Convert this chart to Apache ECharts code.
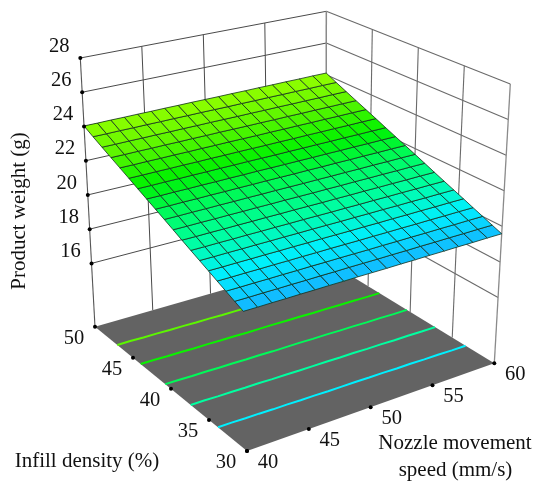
<!DOCTYPE html>
<html><head><meta charset="utf-8">
<style>html,body{margin:0;padding:0;background:#fff}#c{width:533px;height:482px}</style>
<script src="https://cdn.jsdelivr.net/npm/echarts@6/dist/echarts.min.js"></script>
</head><body><div id="c"></div>
<script>
const nozzleTicks=[40,45,50,55,60];
const infillTicks=[30,35,40,45,50];
const weightTicks=[16,18,20,22,24,26,28];
const nozzleValues=[40,41.11,42.22,43.33,44.44,45.56,46.67,47.78,48.89,50,51.11,52.22,53.33,54.44,55.56,56.67,57.78,58.89,60];
const infillValues=[30,31.11,32.22,33.33,34.44,35.56,36.67,37.78,38.89,40,41.11,42.22,43.33,44.44,45.56,46.67,47.78,48.89,50];
const contourLevels=[20.25,21,21.75,22.5,23.25];
// rows: infill 30..50, columns: nozzle 40..60
const surfaceZ=[
[19.50,19.50,19.51,19.51,19.52,19.52,19.53,19.53,19.54,19.54,19.54,19.55,19.55,19.56,19.56,19.57,19.57,19.58,19.58],
[19.71,19.71,19.72,19.72,19.73,19.73,19.74,19.74,19.75,19.75,19.75,19.76,19.76,19.77,19.77,19.78,19.78,19.79,19.79],
[19.93,19.93,19.94,19.94,19.95,19.95,19.96,19.96,19.97,19.97,19.97,19.98,19.98,19.99,19.99,20.00,20.00,20.01,20.01],
[20.15,20.15,20.16,20.16,20.17,20.17,20.18,20.18,20.19,20.19,20.19,20.20,20.20,20.21,20.21,20.22,20.22,20.23,20.23],
[20.38,20.38,20.39,20.39,20.40,20.40,20.41,20.41,20.42,20.42,20.42,20.43,20.43,20.44,20.44,20.45,20.45,20.46,20.46],
[20.61,20.61,20.62,20.62,20.63,20.63,20.64,20.64,20.65,20.65,20.65,20.66,20.66,20.67,20.67,20.68,20.68,20.69,20.69],
[20.84,20.84,20.85,20.85,20.86,20.86,20.87,20.87,20.88,20.88,20.88,20.89,20.89,20.90,20.90,20.91,20.91,20.92,20.92],
[21.08,21.08,21.09,21.09,21.10,21.10,21.11,21.11,21.12,21.12,21.12,21.13,21.13,21.14,21.14,21.15,21.15,21.16,21.16],
[21.33,21.33,21.34,21.34,21.35,21.35,21.36,21.36,21.37,21.37,21.37,21.38,21.38,21.39,21.39,21.40,21.40,21.41,21.41],
[21.58,21.58,21.59,21.59,21.60,21.60,21.61,21.61,21.62,21.62,21.62,21.63,21.63,21.64,21.64,21.65,21.65,21.66,21.66],
[21.83,21.83,21.84,21.84,21.85,21.85,21.86,21.86,21.87,21.87,21.87,21.88,21.88,21.89,21.89,21.90,21.90,21.91,21.91],
[22.08,22.08,22.09,22.09,22.10,22.10,22.11,22.11,22.12,22.12,22.12,22.13,22.13,22.14,22.14,22.15,22.15,22.16,22.16],
[22.34,22.34,22.35,22.35,22.36,22.36,22.37,22.37,22.38,22.38,22.38,22.39,22.39,22.40,22.40,22.41,22.41,22.42,22.42],
[22.61,22.61,22.62,22.62,22.63,22.63,22.64,22.64,22.65,22.65,22.65,22.66,22.66,22.67,22.67,22.68,22.68,22.69,22.69],
[22.88,22.88,22.89,22.89,22.90,22.90,22.91,22.91,22.92,22.92,22.92,22.93,22.93,22.94,22.94,22.95,22.95,22.96,22.96],
[23.15,23.15,23.16,23.16,23.17,23.17,23.18,23.18,23.19,23.19,23.19,23.20,23.20,23.21,23.21,23.22,23.22,23.23,23.23],
[23.43,23.43,23.44,23.44,23.45,23.45,23.46,23.46,23.47,23.47,23.47,23.48,23.48,23.49,23.49,23.50,23.50,23.51,23.51],
[23.72,23.72,23.73,23.73,23.74,23.74,23.75,23.75,23.76,23.76,23.76,23.77,23.77,23.78,23.78,23.79,23.79,23.80,23.80],
[24.03,24.03,24.04,24.04,24.05,24.05,24.06,24.06,24.07,24.07,24.07,24.08,24.08,24.09,24.09,24.10,24.10,24.11,24.11]
];
const colorZ=[19.5,20.25,21,21.75,22.4,23.25,24.1];
const colorHex=['#14b4ff','#00f0ff','#00ffa0','#00fa58','#00f200','#5cf600','#94ff00'];

// ---------- projection of the 3D box onto the page ----------
const zBottom=12.3, zTop=28, xMin=40, xMax=60, yMin=30, yMax=50;
function quad(q){
  return (u,v)=>[0,1].map(k=>(1-u)*(1-v)*q[0][k]+u*(1-v)*q[1][k]+u*v*q[2][k]+(1-u)*v*q[3][k]);
}
const floorMap=quad([[247,451],[494.3,363.3],[326,260.5],[95,326.7]]);
const ceilMap=quad([[239,146.5],[510.3,84],[326.3,11.3],[80.3,58]]);
function project(x,y,z){
  const u=(x-xMin)/(xMax-xMin),v=(y-yMin)/(yMax-yMin),t=(z-zBottom)/(zTop-zBottom);
  const a=floorMap(u,v),b=ceilMap(u,v);
  return [a[0]+(b[0]-a[0])*t,a[1]+(b[1]-a[1])*t];
}
function colorOf(z){
  let i=0;while(i<colorZ.length-2&&z>colorZ[i+1])i++;
  const t=Math.max(0,Math.min(1,(z-colorZ[i])/(colorZ[i+1]-colorZ[i])));
  const p=h=>[1,3,5].map(k=>parseInt(h.substr(k,2),16));
  const a=p(colorHex[i]),b=p(colorHex[i+1]);
  return 'rgb('+a.map((c,k)=>Math.round(c+(b[k]-c)*t)).join(',')+')';
}

// ---------- layers ----------
function seg(p,q,color,width){return {p:[p,q],color,width};}
const wallLines=[];
weightTicks.forEach(z=>{
  wallLines.push(seg([xMin,yMax,z],[xMax,yMax,z],'#4a4a4a',1));
  wallLines.push(seg([xMax,yMax,z],[xMax,yMin,z],'#6a6a6a',1.1));
});
nozzleTicks.slice(1,-1).forEach(x=>wallLines.push(seg([x,yMax,zBottom],[x,yMax,zTop],'#4a4a4a',1)));
infillTicks.slice(1,-1).forEach(y=>wallLines.push(seg([xMax,y,zBottom],[xMax,y,zTop],'#6a6a6a',1.1)));
wallLines.push(seg([xMin,yMax,zBottom],[xMin,yMax,zTop],'#555',1.1));
wallLines.push(seg([xMax,yMax,zBottom],[xMax,yMax,zTop],'#8a8a8a',1.5));
wallLines.push(seg([xMax,yMin,zBottom],[xMax,yMin,zTop],'#8a8a8a',1.3));

function contourPath(level){
  const pts=[];
  nozzleValues.forEach((x,c)=>{
    for(let r=0;r<infillValues.length-1;r++){
      const a=surfaceZ[r][c],b=surfaceZ[r+1][c];
      if(a<=level&&b>=level){
        const y=infillValues[r]+(level-a)/(b-a)*(infillValues[r+1]-infillValues[r]);
        pts.push([x,y,zBottom]);break;
      }
    }
  });
  return pts;
}
const cells=[];
for(let r=0;r<infillValues.length-1;r++)for(let c=0;c<nozzleValues.length-1;c++)cells.push([r,c]);

const tickDots=[];
weightTicks.forEach(z=>tickDots.push([xMin,yMax,z]));
infillTicks.forEach(y=>tickDots.push([xMin,y,zBottom]));
nozzleTicks.forEach(x=>tickDots.push([x,yMin,zBottom]));

const tickLabels=[];
weightTicks.forEach(z=>tickLabels.push({t:String(z),at:[xMin,yMax,z],dx:-21,dy:-11.8}));
infillTicks.forEach(y=>tickLabels.push({t:String(y),at:[xMin,y,zBottom],dx:-21,dy:11.8}));
nozzleTicks.forEach(x=>tickLabels.push({t:String(x),at:[x,yMin,zBottom],dx:21,dy:11.8}));

const font='"Liberation Serif","Times New Roman",serif';
const axisTitles=[
  {t:'Product weight (g)',x:19,y:211,rot:Math.PI/2,size:21},
  {t:'Infill density (%)',x:87,y:461.5,rot:0,size:21},
  {t:'Nozzle movement',x:455,y:443,rot:0,size:21},
  {t:'speed (mm/s)',x:455.5,y:470,rot:0,size:21}
];

function layer(data,fn){
  return {type:'custom',coordinateSystem:'cartesian2d',data:data.map((d,i)=>[i,0]),clip:false,silent:true,
    animation:false,encode:{x:0,y:1},renderItem:(params,api)=>{
      const toPx=p=>{const q=project(p[0],p[1],p[2]);return api.coord(q);};
      return fn(data[params.dataIndex],toPx,api);
    }};
}
const series=[
  layer([0],(d,px)=>({type:'polygon',shape:{points:[[xMin,yMin],[xMax,yMin],[xMax,yMax],[xMin,yMax]].map(p=>px([p[0],p[1],zBottom]))},style:{fill:'#636363'}})),
  layer(wallLines,(d,px)=>({type:'line',shape:{x1:px(d.p[0])[0],y1:px(d.p[0])[1],x2:px(d.p[1])[0],y2:px(d.p[1])[1]},style:{stroke:d.color,lineWidth:d.width}})),
  layer(contourLevels,(lv,px)=>({type:'polyline',shape:{points:contourPath(lv).map(px)},style:{stroke:colorOf(lv),lineWidth:2,fill:null}})),
  layer(cells,(d,px)=>{
    const [r,c]=d;
    const corners=[[r,c],[r,c+1],[r+1,c+1],[r+1,c]];
    const z=corners.reduce((s,k)=>s+surfaceZ[k[0]][k[1]],0)/4;
    return {type:'polygon',shape:{points:corners.map(k=>px([nozzleValues[k[1]],infillValues[k[0]],surfaceZ[k[0]][k[1]]]))},
      style:{fill:colorOf(z),stroke:'#14301e',lineWidth:0.8}};
  }),
  layer(tickDots,(d,px)=>{const q=px(d);return {type:'circle',shape:{cx:q[0],cy:q[1],r:2},style:{fill:'#000'}};}),
  layer(tickLabels,(d,px)=>{const q=px(d.at);return {type:'text',x:q[0]+d.dx,y:q[1]+d.dy,style:{text:d.t,fill:'#111',font:'20.5px '+font,textAlign:'center',textVerticalAlign:'middle'}};}),
  layer(axisTitles,(d,px,api)=>{const q=api.coord([d.x,d.y]);return {type:'text',x:q[0],y:q[1],rotation:d.rot,style:{text:d.t,fill:'#111',font:d.size+'px '+font,textAlign:'center',textVerticalAlign:'middle'}};})
];
const chart=echarts.init(document.getElementById('c'),null,{renderer:'canvas'});
chart.setOption({
  animation:false,backgroundColor:'#fff',
  grid:{left:0,right:0,top:0,bottom:0},
  xAxis:{type:'value',min:0,max:533,show:false},
  yAxis:{type:'value',min:0,max:482,inverse:true,show:false},
  series
});
</script></body></html>
